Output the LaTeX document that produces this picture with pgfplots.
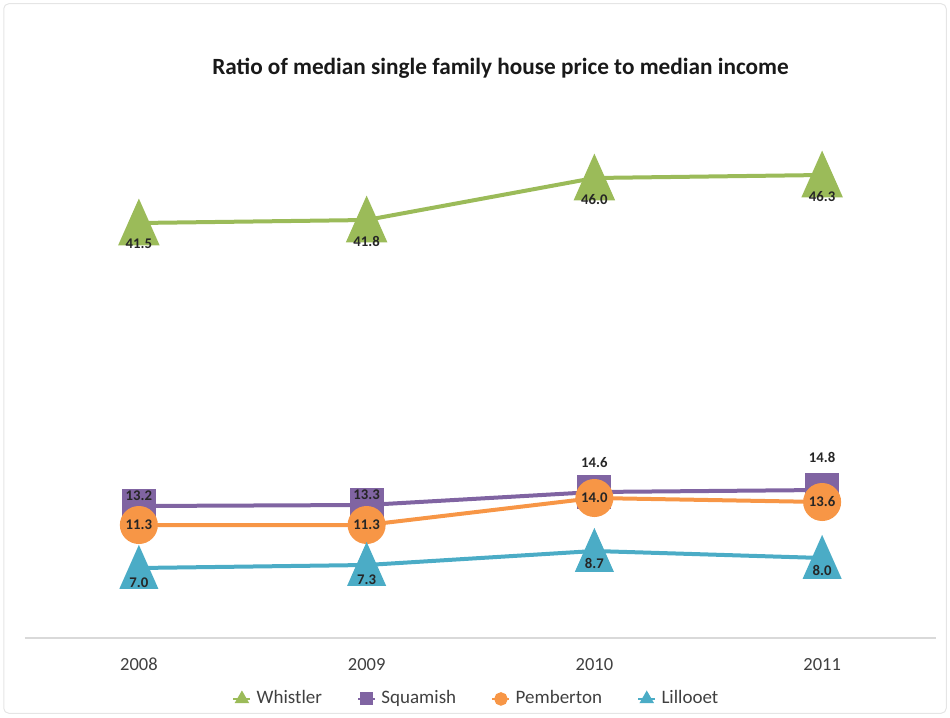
\documentclass[border=0pt]{standalone}
\usepackage{pgfplots}
\pgfplotsset{compat=1.18}
\usepackage{fontspec}
\setmainfont{Carlito}
\definecolor{cW}{RGB}{155,187,89}
\definecolor{cS}{RGB}{128,100,162}
\definecolor{cP}{RGB}{247,150,70}
\definecolor{cL}{RGB}{75,172,198}
\begin{document}
\begin{tikzpicture}
\path[use as bounding box] (0,0) rectangle (380pt,286.8pt);
\draw[gray!20, line width=0.4pt, rounded corners=2pt] (1.5pt,1.5pt) rectangle (378.5pt,285.3pt);
\begin{axis}[
  at={(10pt,31.6pt)}, anchor=south west,
  scale only axis, width=364.4pt, height=200pt,
  xmin=-0.5, xmax=3.5, ymin=0, ymax=50,
  axis y line=none, axis x line*=bottom,
  x axis line style={draw=gray!30, line width=0.8pt, -},
  xtick={0,1,2,3}, xticklabels={2008,2009,2010,2011},
  major tick length=0pt,
  xticklabel style={font=\fontsize{7.4}{8}\selectfont, text=black!75, yshift=-4.5pt},
  clip=false,
  legend columns=4,
  legend style={at={(0.497,-0.084)}, anchor=north, draw=none, fill=none,
    font=\fontsize{7.6}{8}\selectfont, text=black!75,
    /tikz/every odd column/.append style={column sep=0pt},
    /tikz/every even column/.append style={column sep=12pt}},
  legend image code/.code={\draw[mark repeat=2, mark phase=2] plot coordinates {(0pt,0pt)(3.4pt,0pt)(6.8pt,0pt)};},
  nodes near coords,
  point meta=explicit symbolic,
  visualization depends on={\thisrow{dy}\as\dy},
  every node near coord/.append style={font=\bfseries\fontsize{5.9}{6}\selectfont, text=black!85, anchor=center, yshift=\dy pt, inner sep=0pt},
]
\addlegendimage{cW, line width=1pt, mark=triangle*, mark size=2.4pt, mark options={solid}}
\addlegendentry{Whistler}
\addlegendimage{cS, line width=1pt, mark=square*, mark size=2.1pt, mark options={solid}}
\addlegendentry{Squamish}
\addlegendimage{cP, line width=1pt, mark=*, mark size=2.2pt, mark options={solid}}
\addlegendentry{Pemberton}
\addlegendimage{cL, line width=1pt, mark=triangle*, mark size=2.4pt, mark options={solid}}
\addlegendentry{Lillooet}
\addplot[forget plot, cW, line width=1.6pt, mark=triangle*, mark size=8.2pt, mark options={solid, yscale=1.3, yshift=-2.2pt}] table[x=x, y=y, meta=lab] {
x y lab dy
0 41.5 41.5 -5.6
1 41.8 41.8 -5.6
2 46.0 46.0 -5.6
3 46.3 46.3 -5.6
};
\addplot[forget plot, cS, line width=1.6pt, mark=square*, mark size=6pt, mark options={solid}] table[x=x, y=y, meta=lab] {
x y lab dy
0 13.2 13.2 4
1 13.3 13.3 4
2 14.6 14.6 11.6
3 14.8 14.8 13.2
};
\addplot[forget plot, cP, line width=1.6pt, mark=*, mark size=6.8pt, mark options={solid}] table[x=x, y=y, meta=lab] {
x y lab dy
0 11.3 11.3 0
1 11.3 11.3 0
2 14.0 14.0 0
3 13.6 13.6 0
};
\addplot[forget plot, cL, line width=1.6pt, mark=triangle*, mark size=7.6pt, mark options={solid, yscale=1.3, yshift=-2pt}] table[x=x, y=y, meta=lab] {
x y lab dy
0 7.0 7.0 -3.2
1 7.3 7.3 -3.2
2 8.7 8.7 -2.4
3 8.0 8.0 -2.4
};
\node[font=\bfseries\fontsize{9.3}{10}\selectfont, text=black!90] at (rel axis cs:0.5,1) [xshift=8pt, yshift=28pt] {Ratio of median single family house price to median income};
\end{axis}
\end{tikzpicture}
\end{document}
